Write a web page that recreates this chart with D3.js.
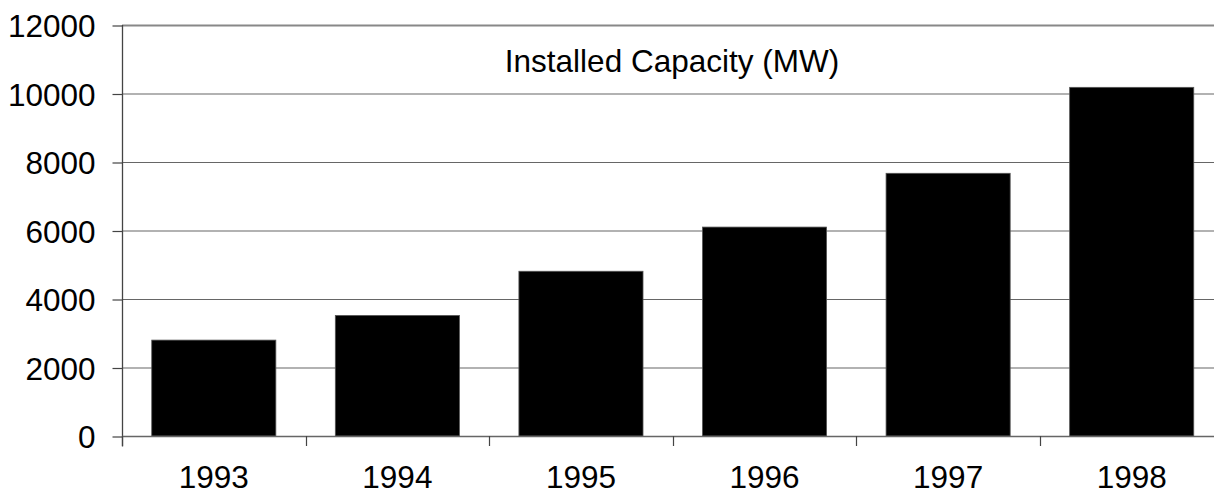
<!DOCTYPE html>
<html><head><meta charset="utf-8">
<script src="https://cdn.jsdelivr.net/npm/d3@7"></script>
<style>body{margin:0;background:#fff}svg{display:block}text{font-family:"Liberation Sans",Arial,sans-serif;fill:#000}</style>
</head><body>
<svg id="c" width="1214" height="495"></svg>
<script>
const years = ["1993","1994","1995","1996","1997","1998"];
const capacity = [2800, 3520, 4810, 6100, 7670, 10180];
const yTicks = [0,2000,4000,6000,8000,10000,12000];
const title = "Installed Capacity (MW)";

const svg = d3.select("#c");
const x = d3.scaleBand().domain(years).range([122, 1223.5]).paddingInner(0.324).paddingOuter(0.162);
const y = d3.scaleLinear().domain([0,12000]).range([436, 25]);
const fs = "31.5px";

// gridlines
svg.append("g").selectAll("line").data(yTicks.filter(d=>d>0)).join("line")
  .attr("x1",122).attr("x2",1214).attr("y1",d=>y(d)+0.5).attr("y2",d=>y(d)+0.5)
  .attr("stroke",d=>d===12000?"#888":"#666").attr("stroke-width",d=>d===12000?2:1.2);

// bars
svg.append("g").selectAll("rect").data(years).join("rect")
  .attr("x",d=>x(d)).attr("width",x.bandwidth())
  .attr("y",(d,i)=>y(capacity[i])).attr("height",(d,i)=>y(0)-y(capacity[i]))
  .attr("fill","#000").attr("stroke","#555").attr("stroke-width",0.8);

// y axis
const ya = svg.append("g").attr("transform","translate(122.5,0.5)")
  .call(d3.axisLeft(y).tickValues(yTicks).tickSize(10).tickPadding(17).tickFormat(d3.format("d")));
ya.select(".domain").attr("stroke","#444").attr("stroke-width",1.3).attr("d","M0,"+(y(12000)-0.5)+"V"+(y(0)+10));
ya.selectAll(".tick line").attr("stroke","#444").attr("stroke-width",1.2);
ya.selectAll(".tick text").attr("font-size",fs).attr("font-family","Liberation Sans, Arial, sans-serif").attr("fill","#000").attr("dy","0.36em");

// x axis
const boundaries = years.map(d=>x(d)-x.step()*x.paddingInner()/2);
const xa = svg.append("g");
xa.append("line").attr("x1",122).attr("x2",1214).attr("y1",y(0)+0.5).attr("y2",y(0)+0.5).attr("stroke","#666").attr("stroke-width",1.3);
xa.selectAll("line.t").data(boundaries).join("line").attr("class","t")
  .attr("x1",d=>Math.round(d)+0.5).attr("x2",d=>Math.round(d)+0.5).attr("y1",y(0)).attr("y2",y(0)+10)
  .attr("stroke","#444").attr("stroke-width",1.2);
xa.selectAll("text").data(years).join("text")
  .attr("x",d=>x(d)+x.bandwidth()/2).attr("y",488).attr("text-anchor","middle")
  .attr("font-size",fs).text(d=>d);

// title
svg.append("text").attr("x",672).attr("y",72).attr("text-anchor","middle").attr("font-size",fs).text(title);
</script>
</body></html>
